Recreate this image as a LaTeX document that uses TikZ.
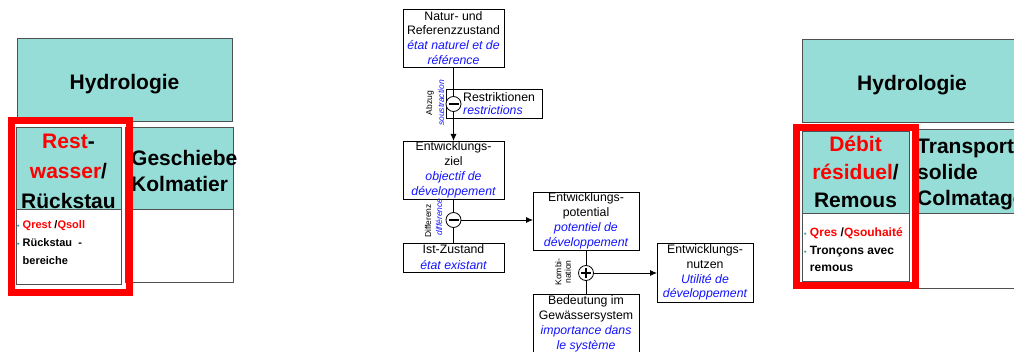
\documentclass[tikz,border=0pt]{standalone}
\usepackage{fontspec}
\setmainfont{Liberation Sans}
\usetikzlibrary{arrows.meta}

\definecolor{paneteal}{RGB}{150,221,215}
\definecolor{bulletteal}{RGB}{40,150,150}
\definecolor{textblue}{RGB}{20,20,255}
\definecolor{edgegray}{RGB}{80,80,80}

\newcommand\frtxt[1]{{\color{textblue}\itshape #1}}
\newcommand\pbul{{\color{bulletteal}\fontsize{7}{7}\selectfont\textbullet}}

\tikzset{
  head/.style={font=\fontsize{21}{30}\selectfont\bfseries, text height=19, text depth=0},
  tealbox/.style={draw=edgegray, line width=1, fill=paneteal, inner sep=0, outer sep=0, anchor=north west},
  whitebox/.style={draw=edgegray, line width=1, fill=white, inner sep=0, outer sep=0, anchor=north west},
  hilite/.style={draw=red, line width=7, inner sep=0, outer sep=0, anchor=north west},
  bulletlist/.style={align=left, anchor=north west, inner sep=0},
  flowbox/.style={draw, line width=0.8, fill=white, inner sep=0, outer sep=0, anchor=north west,
    align=center, font=\fontsize{12.3}{14.8}\selectfont},
  opcircle/.style={circle, draw, line width=0.8, fill=white, minimum size=15, inner sep=0, outer sep=0},
  opmark/.style={line width=2.6},
  oplabel/.style={rotate=90, inner sep=0, font=\fontsize{8.5}{9.5}\selectfont},
  oplabelfr/.style={oplabel, text=textblue, font=\fontsize{8.5}{9.5}\selectfont\itshape},
  flowline/.style={line width=0.8},
  flowarrow/.style={line width=0.8, -{Latex[length=7,width=6]}},
}

\begin{document}
\begin{tikzpicture}[x=1pt, y=-1pt]
\useasboundingbox (0,0) rectangle (1014,352);
\clip (0,0) rectangle (1014,352);

% ---------- left panel (German) ----------
\node[tealbox, minimum width=215, minimum height=83, head] (hydL) at (17,39) {Hydrologie};
\node[tealbox, minimum width=108, minimum height=82] (gesT) at (125,128) {};
\node[whitebox, minimum width=108, minimum height=73] (gesW) at (125,210) {};
\node[align=left, anchor=west, inner sep=0, font=\fontsize{21}{26}\selectfont\bfseries] (gesTxt) at (131,171) {Geschiebe\\Kolmatier};

\node[tealbox, minimum width=105, minimum height=82] (restT) at (16,128) {};
\node[whitebox, minimum width=105, minimum height=75] (restW) at (16,210) {};
\node[align=center, inner sep=0, font=\fontsize{21}{30}\selectfont\bfseries] (restTxt) at (68.5,171) {\textcolor{red}{Rest}-\\\textcolor{red}{wasser}/\\Rückstau};
\node[bulletlist, font=\fontsize{11}{18}\selectfont\bfseries] (restList) at (17,220)
  {\pbul\ \textcolor{red}{Qrest} /\textcolor{red}{Qsoll}\\\pbul\ Rückstau\ \ -\\\phantom{\pbul\ }bereiche};
\node[hilite, minimum width=118, minimum height=172] (frameL) at (11.5,120.5) {};

% ---------- flow diagram ----------
\node[flowbox, minimum width=101, minimum height=58] (natur) at (403,9)
  {Natur- und\\Referenzzustand\\\frtxt{état naturel et de}\\\frtxt{référence}};
\node[flowbox, minimum width=96, minimum height=29] (restr) at (446,89) {};
\node[anchor=west, align=left, inner sep=0, font=\fontsize{12.3}{12.5}\selectfont] (restrTxt) at (463,103.5)
  {Restriktionen\\\frtxt{restrictions}};
\node[flowbox, minimum width=101, minimum height=58] (ziel) at (403,141)
  {Entwicklungs-\\ziel\\\frtxt{objectif de}\\\frtxt{développement}};
\node[flowbox, minimum width=101, minimum height=29, font=\fontsize{12.3}{16}\selectfont] (ist) at (403,243)
  {Ist-Zustand\\\frtxt{état existant}};
\node[flowbox, minimum width=106, minimum height=58] (pot) at (533,192)
  {Entwicklungs-\\potential\\\frtxt{potentiel de}\\\frtxt{développement}};
\node[flowbox, minimum width=96, minimum height=59] (nutzen) at (657,243)
  {Entwicklungs-\\nutzen\\\frtxt{Utilité de}\\\frtxt{développement}};
\node[flowbox, minimum width=106, minimum height=60] (bed) at (533,294)
  {Bedeutung im\\Gewässersystem\\\frtxt{importance dans}\\\frtxt{le système}};

% operators
\node[opcircle] (sub1) at (453.5,104) {};
\node[opcircle] (sub2) at (453.5,220) {};
\node[opcircle] (add) at (586,273) {};
\draw[opmark] ([xshift=-5]sub1.center) -- ([xshift=5]sub1.center);
\draw[opmark] ([xshift=-5]sub2.center) -- ([xshift=5]sub2.center);
\draw[opmark] ([xshift=-5]add.center) -- ([xshift=5]add.center);
\draw[opmark] ([yshift=-5]add.center) -- ([yshift=5]add.center);

\node[oplabel] (abzug) at (430,103) {Abzug};
\node[oplabelfr] (soustr) at (441,103) {soustraction};
\node[oplabel] (diffDe) at (428,221) {Differenz};
\node[oplabelfr] (diffFr) at (439,217) {différence};
\node[oplabel, align=center] (kombi) at (563,272) {Kombi-\\nation};

% connectors
\draw[flowline] (natur.south) -- (sub1.north);
\draw[flowarrow] (sub1.south) -- (ziel.north);
\draw[flowline] (ziel.south) -- (sub2.north);
\draw[flowline] (sub2.south) -- (ist.north);
\draw[flowarrow] (sub2.east) -- (sub2.east -| pot.west);
\draw[flowline] (pot.south) -- (add.north);
\draw[flowline] (add.south) -- (bed.north);
\draw[flowarrow] (add.east) -- (add.east -| nutzen.west);

% ---------- right panel (French) ----------
\node[tealbox, minimum width=220, minimum height=83, head] (hydR) at (802,40) {Hydrologie};
\node[tealbox, minimum width=110, minimum height=84] (trT) at (915,130) {};
\node[whitebox, minimum width=110, minimum height=75] (trW) at (915,214) {};
\node[align=left, anchor=west, inner sep=0, font=\fontsize{21}{26}\selectfont\bfseries] (trTxt) at (917,175) {Transport\\solide\\Colmatage};

\node[tealbox, minimum width=107, minimum height=82] (debT) at (802,132) {};
\node[whitebox, minimum width=107, minimum height=68] (debW) at (802,214) {};
\node[align=center, inner sep=0, font=\fontsize{21}{28}\selectfont\bfseries] (debTxt) at (855.5,172)
  {\textcolor{red}{Débit}\\\textcolor{red}{résiduel}/\\Remous};
\node[bulletlist, font=\fontsize{12}{17.5}\selectfont\bfseries] (debList) at (804,228)
  {\pbul\ \textcolor{red}{Qres} /\textcolor{red}{Qsouhaité}\\\pbul\ Tronçons avec\\\phantom{\pbul\ }remous};
\node[hilite, minimum width=119, minimum height=158] (frameR) at (796.5,127.5) {};
\end{tikzpicture}
\end{document}
